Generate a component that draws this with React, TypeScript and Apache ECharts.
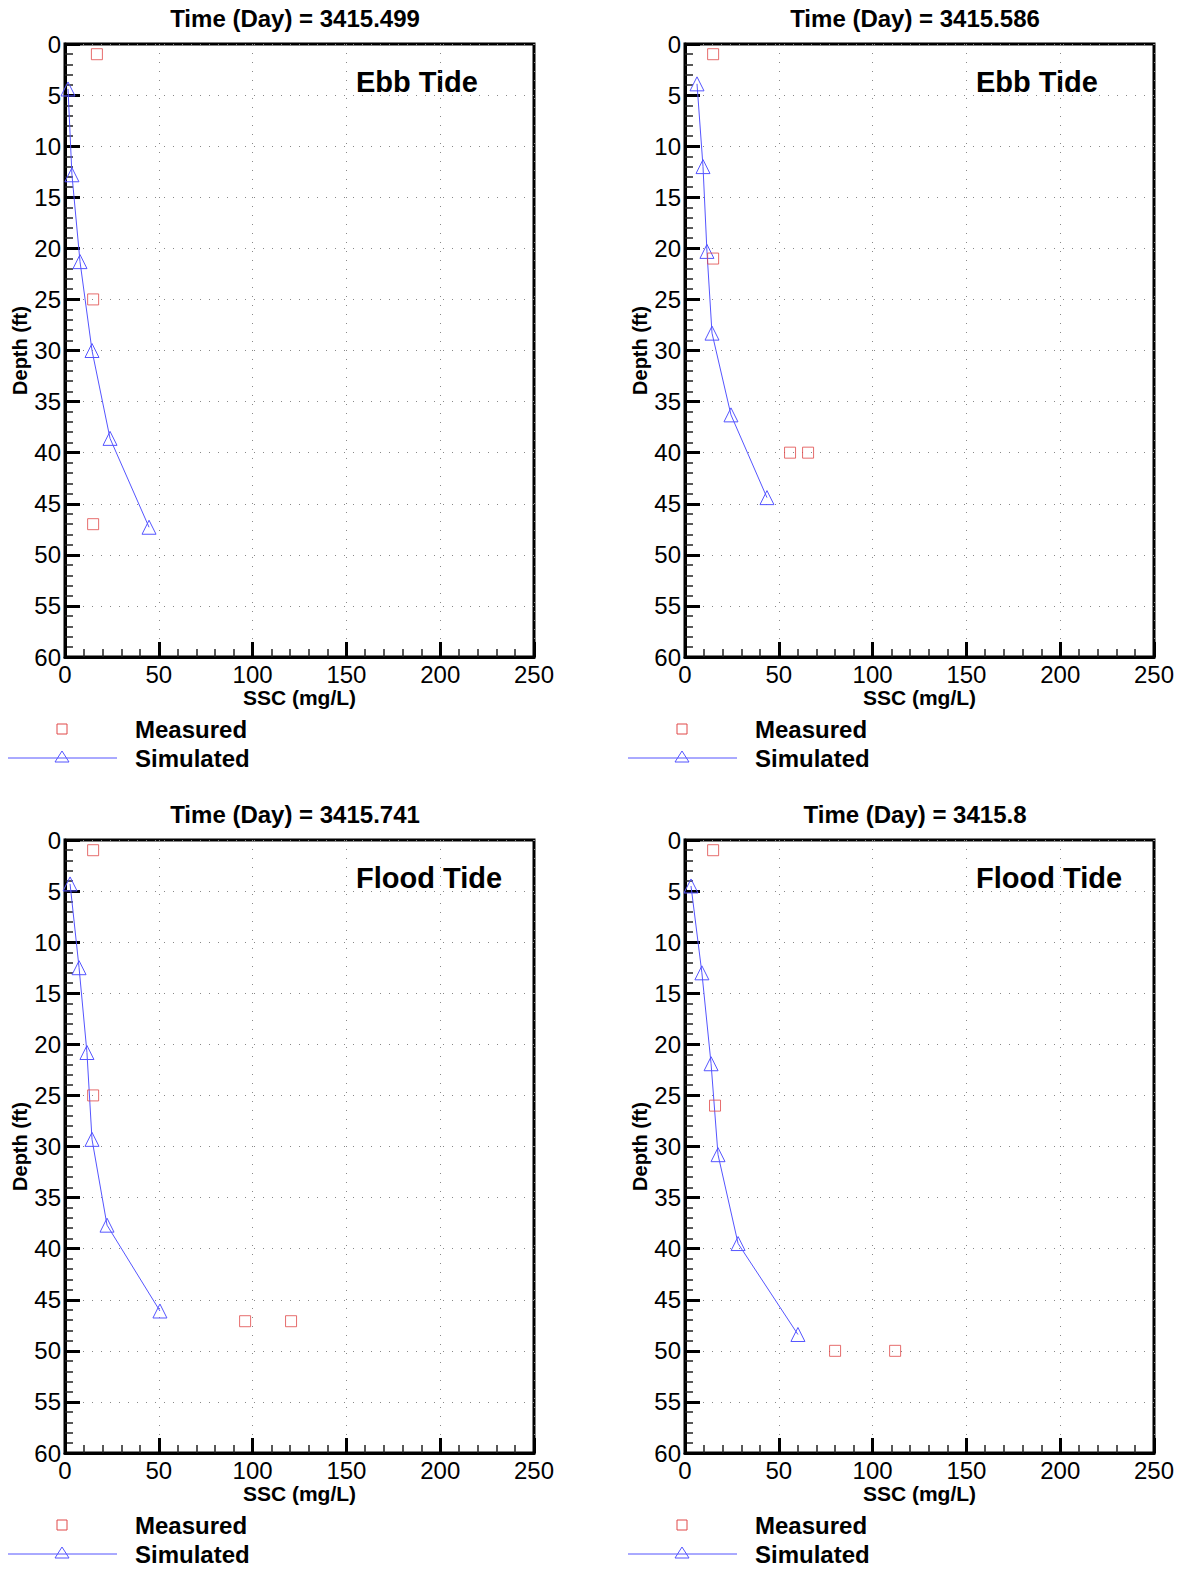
import React, { useEffect, useRef } from "react";
import * as echarts from "echarts";

const W = 1181;
const H = 1572;

const timeLabels = ["Time (Day) = 3415.499", "Time (Day) = 3415.586", "Time (Day) = 3415.741", "Time (Day) = 3415.8"];
const tideLabels = ["Ebb Tide", "Ebb Tide", "Flood Tide", "Flood Tide"];

// Panel A: 3415.499
const measuredSSC_A = [17, 15, 15];
const measuredDepth_A = [1, 25, 47];
const simulatedSSC_A = [1.6, 3.7, 8, 14.4, 24, 44.8];
const simulatedDepth_A = [4.4, 12.8, 21.3, 30.0, 38.6, 47.3];

// Panel B: 3415.586
const measuredSSC_B = [15, 15, 56, 65.6];
const measuredDepth_B = [1, 21, 40, 40];
const simulatedSSC_B = [6.4, 9.6, 11.7, 14.4, 24.5, 43.7];
const simulatedDepth_B = [3.9, 12, 20.3, 28.3, 36.3, 44.4];

// Panel C: 3415.741
const measuredSSC_C = [15, 15, 96, 120.5];
const measuredDepth_C = [1, 25, 47.1, 47.1];
const simulatedSSC_C = [2.7, 7.5, 11.7, 14.4, 22.4, 50.6];
const simulatedDepth_C = [4.3, 12.5, 20.8, 29.3, 37.7, 46.1];

// Panel D: 3415.8
const measuredSSC_D = [15, 16, 80, 112];
const measuredDepth_D = [1, 26, 50, 50];
const simulatedSSC_D = [3.2, 9, 13.9, 17.6, 28.3, 60.2];
const simulatedDepth_D = [4.5, 13, 21.9, 30.8, 39.5, 48.4];

const measuredSSC = [measuredSSC_A, measuredSSC_B, measuredSSC_C, measuredSSC_D];
const measuredDepth = [measuredDepth_A, measuredDepth_B, measuredDepth_C, measuredDepth_D];
const simulatedSSC = [simulatedSSC_A, simulatedSSC_B, simulatedSSC_C, simulatedSSC_D];
const simulatedDepth = [simulatedDepth_A, simulatedDepth_B, simulatedDepth_C, simulatedDepth_D];

const FONT = '"Liberation Sans", Arial, Helvetica, sans-serif';
const RED = "#e04848";
const BLUE = "#5555ff";

const gridLefts = [65, 685, 65, 685];
const gridTops = [44, 44, 840, 840];
const GW = 469;
const GH = 613;

export default function App() {
  const ref = useRef<HTMLDivElement>(null);
  useEffect(() => {
    if (!ref.current) return;
    const chart = echarts.init(ref.current, undefined, { renderer: "svg" });
    const grids: any[] = [];
    const xAxes: any[] = [];
    const yAxes: any[] = [];
    const series: any[] = [];
    const graphics: any[] = [];
    for (let i = 0; i < 4; i++) {
      const left = gridLefts[i];
      const top = gridTops[i];
      grids.push({
        left,
        top,
        width: GW,
        height: GH,
        show: true,
        borderColor: "#000",
        borderWidth: 3,
        backgroundColor: "transparent",
      });
      xAxes.push({
        gridIndex: i,
        type: "value",
        min: 0,
        max: 250,
        interval: 50,
        position: "bottom",
        name: "SSC (mg/L)",
        nameLocation: "middle",
        nameGap: 28,
        nameTextStyle: { fontFamily: FONT, fontWeight: "bold", fontSize: 21, color: "#000" },
        axisLine: { show: true, onZero: false, lineStyle: { color: "#000", width: 3 } },
        axisTick: { show: true, inside: true, length: 15, lineStyle: { color: "#000", width: 3 } },
        minorTick: { show: true, splitNumber: 5, length: 8, lineStyle: { color: "#222", width: 1.5 } },
        axisLabel: { fontFamily: FONT, fontSize: 24, color: "#000", margin: 5 },
        splitLine: { show: true, lineStyle: { color: "#888", width: 1, type: [1, 8] } },
      });
      yAxes.push({
        gridIndex: i,
        type: "value",
        inverse: true,
        min: 0,
        max: 60,
        interval: 5,
        position: "left",
        name: "Depth (ft)",
        nameLocation: "middle",
        nameGap: 34,
        nameRotate: 90,
        nameTextStyle: { fontFamily: FONT, fontWeight: "bold", fontSize: 20, color: "#000" },
        axisLine: { show: true, onZero: false, lineStyle: { color: "#000", width: 3 } },
        axisTick: { show: true, inside: true, length: 15, lineStyle: { color: "#000", width: 3 } },
        minorTick: { show: true, splitNumber: 5, length: 8, lineStyle: { color: "#222", width: 1.5 } },
        axisLabel: { fontFamily: FONT, fontSize: 24, color: "#000", margin: 4 },
        splitLine: { show: true, lineStyle: { color: "#888", width: 1, type: [1, 8] } },
      });
      series.push({
        type: "line",
        name: "Simulated",
        xAxisIndex: i,
        yAxisIndex: i,
        data: simulatedSSC[i].map((v, k) => [v, simulatedDepth[i][k]]),
        symbol: "triangle",
        symbolSize: 14,
        showAllSymbol: true,
        lineStyle: { color: BLUE, width: 1 },
        itemStyle: { color: "rgba(0,0,0,0)", borderColor: BLUE, borderWidth: 1 },
        z: 3,
      });
      series.push({
        type: "scatter",
        name: "Measured",
        xAxisIndex: i,
        yAxisIndex: i,
        data: measuredSSC[i].map((v, k) => [v, measuredDepth[i][k]]),
        symbol: "rect",
        symbolSize: 11,
        itemStyle: { color: "rgba(0,0,0,0)", borderColor: RED, borderWidth: 1 },
        z: 4,
      });
      // Title
      graphics.push({
        type: "text",
        x: left + 230,
        y: top - 26,
        style: {
          text: timeLabels[i],
          font: `bold 24px ${FONT}`,
          fill: "#000",
          textAlign: "center",
          textVerticalAlign: "middle",
        },
      });
      // Tide label
      graphics.push({
        type: "text",
        x: left + 291,
        y: top + 38,
        style: {
          text: tideLabels[i],
          font: `bold 29px ${FONT}`,
          fill: "#000",
          textAlign: "left",
          textVerticalAlign: "middle",
        },
      });
      // Legend
      const lx = left - 57;
      const ly = top + 685;
      graphics.push({
        type: "rect",
        shape: { x: lx + 49, y: ly - 5, width: 10, height: 10 },
        style: { fill: "none", stroke: RED, lineWidth: 1 },
      });
      graphics.push({
        type: "text",
        x: lx + 127,
        y: ly,
        style: { text: "Measured", font: `bold 24px ${FONT}`, fill: "#000", textAlign: "left", textVerticalAlign: "middle" },
      });
      graphics.push({
        type: "line",
        shape: { x1: lx, y1: ly + 29, x2: lx + 109, y2: ly + 29 },
        style: { stroke: BLUE, lineWidth: 1 },
      });
      graphics.push({
        type: "polygon",
        shape: { points: [[lx + 54, ly + 22], [lx + 47, ly + 33], [lx + 61, ly + 33]] },
        style: { fill: "none", stroke: BLUE, lineWidth: 1 },
      });
      graphics.push({
        type: "text",
        x: lx + 127,
        y: ly + 29,
        style: { text: "Simulated", font: `bold 24px ${FONT}`, fill: "#000", textAlign: "left", textVerticalAlign: "middle" },
      });
    }
    chart.setOption({
      animation: false,
      backgroundColor: "#fff",
      textStyle: { fontFamily: FONT },
      grid: grids,
      xAxis: xAxes,
      yAxis: yAxes,
      series,
      graphic: graphics,
    });
    return () => chart.dispose();
  }, []);
  return (
    <div
      ref={ref}
      style={{ position: "absolute", left: 0, top: 0, width: W, height: H, background: "#fff" }}
    />
  );
}
